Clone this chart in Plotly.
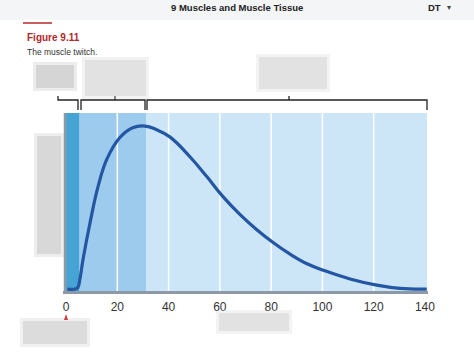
import plotly.graph_objects as go

# ---- data ----
time_ms = [0.5, 3.5, 4.6, 5.4, 6.6, 9.4, 12.5, 16, 21, 26, 30.8, 35, 40.6, 48.4, 54.9, 60.7, 67.9, 74.4, 80.9,
           87.4, 94, 101, 110.8, 121.2, 130.3, 140.7]
tension = [0, 0, 0.01, 0.06, 0.18, 0.41, 0.63, 0.80, 0.93, 0.99, 1.0, 0.98, 0.932, 0.81, 0.690, 0.576, 0.456, 0.364,
           0.284, 0.214, 0.155, 0.112, 0.062, 0.024, 0.004, 0.0]
phase_edges = [0, 5.3, 31.2, 140.8]          # latent / contraction / relaxation
phase_colors = ["#46a4d5", "#9dcbee", "#cde6f7"]
grid_ms = [20, 40, 60, 80, 100, 120]
tick_vals = [0, 20, 40, 60, 80, 100, 120, 140]
tick_text = [str(v) for v in tick_vals]

XR = [-0.8, 140.8]
YR = [-0.018, 1.08]

fig = go.Figure()
fig.add_trace(go.Scatter(x=time_ms, y=tension, mode="lines",
                         line=dict(color="#2356a3", width=3.2, shape="spline", smoothing=1.2),
                         hoverinfo="skip", showlegend=False))

shapes = []
# phase bands
for i, c in enumerate(phase_colors):
    shapes.append(dict(type="rect", xref="x", yref="paper", x0=max(phase_edges[i], XR[0]), x1=phase_edges[i+1],
                       y0=0, y1=1, fillcolor=c, line=dict(width=0), layer="below"))
for g in grid_ms:
    shapes.append(dict(type="line", xref="x", yref="paper", x0=g, x1=g, y0=0, y1=1,
                       line=dict(color="white", width=1.5), layer="below"))

# pixel helpers for decorations
L, R, T, B = 64, 427, 113, 292
def px(x):
    return (x - L) / (R - L)
def py(y):
    return (B - y) / (B - T)

# axis lines
shapes.append(dict(type="line", xref="paper", yref="paper", x0=px(63), x1=px(428), y0=py(292.5), y1=py(292.5),
                   line=dict(color="#8d9aa6", width=3)))
shapes.append(dict(type="line", xref="paper", yref="paper", x0=px(65), x1=px(65), y0=py(113), y1=py(294),
                   line=dict(color="#8d9aa6", width=2.5)))

# brackets
bc = "#222222"
def bracket(xa, xb, stem):
    shapes.append(dict(type="path", xref="paper", yref="paper",
                       path=f"M {px(xa)} {py(110)} L {px(xa)} {py(100)} L {px(xb)} {py(100)} L {px(xb)} {py(110)}",
                       line=dict(color=bc, width=1.3)))
    shapes.append(dict(type="line", xref="paper", yref="paper", x0=px(stem), x1=px(stem), y0=py(100), y1=py(96),
                       line=dict(color=bc, width=1.3)))
shapes.append(dict(type="path", xref="paper", yref="paper",
                   path=f"M {px(58)} {py(96)} L {px(58)} {py(100)} L {px(78)} {py(100)} L {px(78)} {py(110)}",
                   line=dict(color=bc, width=1.3)))
bracket(81, 145, 115)
bracket(147, 427, 289)

# header band
shapes.append(dict(type="rect", xref="paper", yref="paper", x0=px(0), x1=px(474), y0=py(0), y1=py(20),
                   fillcolor="#f4f5f7", line=dict(width=0), layer="below"))
shapes.append(dict(type="line", xref="paper", yref="paper", x0=px(23), x1=px(52), y0=py(23), y1=py(23),
                   line=dict(color="#b5282e", width=1.5)))

# blurred (masked) label boxes
def blur(x0, y0, x1, y1, shade):
    for k, op in [(3, 0.25), (0, 0.45)]:
        shapes.append(dict(type="rect", xref="paper", yref="paper", x0=px(x0 - k), x1=px(x1 + k),
                           y0=py(y1 + k), y1=py(y0 - k), fillcolor=shade, opacity=op, line=dict(width=0)))
blur(36, 65, 74, 88, "#b8b8b8")
blur(85, 60, 146, 96, "#cfcfcf")
blur(259, 57, 327, 89, "#cfcfcf")
blur(37, 136, 61, 254, "#bdbdbd")
blur(219, 313, 289, 331, "#cfcfcf")
blur(23, 321, 87, 344, "#c4c4c4")

# stimulus marker
shapes.append(dict(type="path", xref="paper", yref="paper",
                   path=f"M {px(64)} {py(320)} L {px(66)} {py(314)} L {px(68)} {py(320)} Z",
                   fillcolor="#d23a3a", line=dict(width=0)))

annotations = [
    dict(text="<b>9 Muscles and Muscle Tissue</b>", x=px(237), y=py(8), xref="paper", yref="paper",
         showarrow=False, font=dict(size=9.5, color="#222", family="Liberation Sans, Arial"), xanchor="center", yanchor="middle"),
    dict(text="<b>DT</b>", x=px(434), y=py(8), xref="paper", yref="paper",
         showarrow=False, font=dict(size=9.5, color="#222", family="Liberation Sans, Arial"), xanchor="center", yanchor="middle"),
    dict(text="▾", x=px(449), y=py(8), xref="paper", yref="paper",
         showarrow=False, font=dict(size=8, color="#444", family="DejaVu Sans"), xanchor="center", yanchor="middle"),
    dict(text="<b>Figure 9.11</b>", x=px(25), y=py(37), xref="paper", yref="paper",
         showarrow=False, font=dict(size=10, color="#b0272d", family="Liberation Sans, Arial"), xanchor="left", yanchor="middle"),
    dict(text="The muscle twitch.", x=px(25), y=py(52), xref="paper", yref="paper",
         showarrow=False, font=dict(size=8.5, color="#333", family="Liberation Sans, Arial"), xanchor="left", yanchor="middle"),
]

fig.update_layout(
    width=474, height=352,
    margin=dict(l=L, r=474 - R, t=T, b=352 - B),
    paper_bgcolor="white", plot_bgcolor="rgba(0,0,0,0)",
    shapes=shapes, annotations=annotations,
    xaxis=dict(range=XR, tickvals=tick_vals, ticktext=tick_text, showgrid=False, zeroline=False,
               showline=False, ticks="", ticklabelstandoff=6,
               tickfont=dict(size=12, color="#333", family="Liberation Sans, Arial"), fixedrange=True),
    yaxis=dict(range=YR, showgrid=False, zeroline=False, showticklabels=False, showline=False, fixedrange=True),
    showlegend=False,
)

fig.write_html("out.html")
